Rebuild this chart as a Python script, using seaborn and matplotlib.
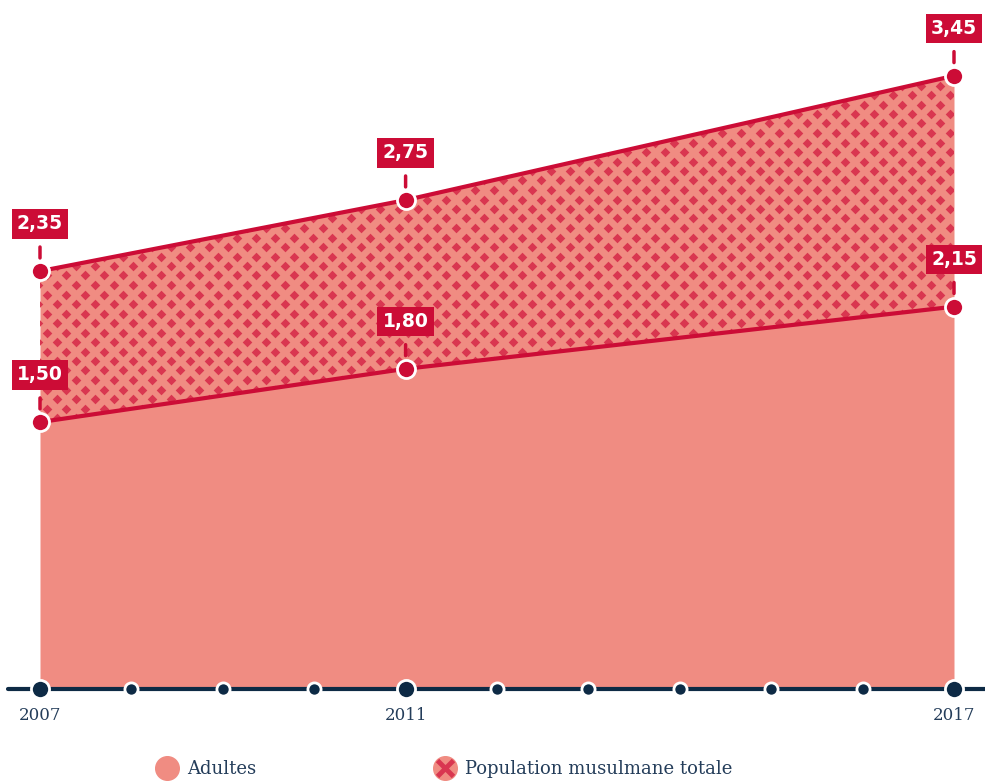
import numpy as np
import matplotlib
matplotlib.use("Agg")
import matplotlib.pyplot as plt
from matplotlib.lines import Line2D
import pandas as pd
import seaborn as sns

# --- data ---
years = [2007, 2011, 2017]
adultes = [1.50, 1.80, 2.15]
total = [2.35, 2.75, 3.45]
tick_years = list(range(2007, 2018))
shown_years = [2007, 2011, 2017]
legend_labels = ["Adultes", "Population musulmane totale"]

# --- colours ---
SALMON = "#F08C82"
CRIMSON = "#CC0C36"
DOT = "#D93650"
NAVY = "#0D2A45"
TEXT = "#243D5A"

W, H = 985, 781
PX_PER_YEAR = (954 - 40) / 10
PX_PER_UNIT = 177.6
BASE_PX = 688.5  # baseline (from top)

sns.set_theme(style="white")
plt.rcParams["font.family"] = ["DejaVu Serif"]

fig = plt.figure(figsize=(W / 100, H / 100), dpi=100)
left, right = 8, 985
ax = fig.add_axes([left / W, (H - BASE_PX) / H, (right - left) / W, BASE_PX / H])
ax.set_xlim(2007 - (40 - left) / PX_PER_YEAR, 2017 + (right - 954) / PX_PER_YEAR)
ax.set_ylim(0, BASE_PX / PX_PER_UNIT)
ax.set_facecolor("none")
fig.patch.set_facecolor("white")

df = pd.DataFrame({"year": years, "adultes": adultes, "total": total})

# areas
ax.fill_between(df["year"], 0, df["adultes"], color=SALMON, lw=0, zorder=1)
upper = ax.fill_between(df["year"], df["adultes"], df["total"], color=SALMON, lw=0, zorder=1)

# diamond texture clipped to the upper band (pixel grid)
gx, gy = np.meshgrid(np.arange(0, W, 19.0), np.arange(0, H, 19.0))
px = np.concatenate([gx.ravel(), gx.ravel() + 9.5])
py = np.concatenate([gy.ravel(), gy.ravel() + 9.5])
pts = ax.transData.inverted().transform(np.column_stack([px, H - py]))
sc = ax.scatter(pts[:, 0], pts[:, 1], marker="D", s=24, color=DOT, lw=0, zorder=2)
sc.set_clip_path(upper.get_paths()[0], transform=ax.transData)

# lines
for col in ["adultes", "total"]:
    sns.lineplot(data=df, x="year", y=col, ax=ax, color=CRIMSON, lw=3, zorder=3,
                 marker="o", markersize=13, markeredgecolor="white", markeredgewidth=2,
                 legend=False)

# value labels
for col in ["adultes", "total"]:
    for x, y in zip(df["year"], df[col]):
        ax.annotate(f"{y:.2f}".replace(".", ","), xy=(x, y), xytext=(0, 34),
                    textcoords="offset points", ha="center", va="center",
                    color="white", fontsize=13.5, fontweight="bold", family="DejaVu Sans",
                    bbox=dict(boxstyle="square,pad=0.28", fc=CRIMSON, ec="none"),
                    arrowprops=dict(arrowstyle="-", color=CRIMSON, lw=2.5,
                                    shrinkA=6, shrinkB=9.5),
                    zorder=5, annotation_clip=False)

# axis line with dot ticks
ax.axhline(0, color=NAVY, lw=3, zorder=4, clip_on=False)
small = [y for y in tick_years if y not in shown_years]
ax.scatter(small, [0] * len(small), s=90, color=NAVY, edgecolor="white", lw=2,
           zorder=6, clip_on=False)
ax.scatter(shown_years, [0] * len(shown_years), s=170, color=NAVY, edgecolor="white", lw=2,
           zorder=6, clip_on=False)

ax.set_xticks(shown_years)
ax.set_xticklabels([str(y) for y in shown_years], fontsize=12, color=TEXT)
ax.tick_params(axis="x", length=0, pad=13)
ax.set_yticks([])
ax.set_xlabel("")
ax.set_ylabel("")
for s in ax.spines.values():
    s.set_visible(False)

# legend
h1 = Line2D([], [], ls="", marker="o", ms=17, color=SALMON)
h2a = Line2D([], [], ls="", marker="o", ms=17, color=SALMON)
h2b = Line2D([], [], ls="", marker="x", ms=11, mew=3.5, color=DOT)
fig.legend([h1, (h2a, h2b)], legend_labels, loc="center left",
           bbox_to_anchor=(140 / W, 1 - 769 / H), ncol=2, frameon=False,
           fontsize=13, labelcolor=TEXT, handletextpad=0.5, columnspacing=9.85,
           handlelength=1.2)

fig.savefig("out.png", dpi=100)
